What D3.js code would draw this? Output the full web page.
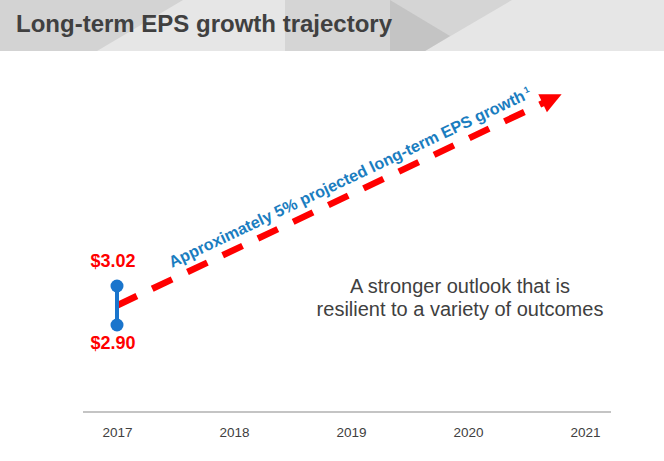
<!DOCTYPE html>
<html>
<head>
<meta charset="utf-8">
<script src="https://cdn.jsdelivr.net/npm/d3@7"></script>
<style>
  body { margin: 0; background: #fff; }
  text { font-family: "Liberation Sans", Arial, sans-serif; }
</style>
</head>
<body>
<div id="chart"></div>
<script>
// Données
var years = [2017, 2018, 2019, 2020, 2021]
var epsLabels = ["$3.02", "$2.90"]
var epsRange = [3.02, 2.90]          // fourchette 2017
var trendYears = [2017, 2020.8]      // flèche de croissance
var trendEps = [2.96, 3.61]
var growthLabel = "Approximately 5% projected long-term EPS growth"
var noteLines = ["A stronger outlook that is", "resilient to a variety of outcomes"]

var width = 664, height = 461

const svg = d3.select("#chart")
  .append("svg")
    .attr("width", width)
    .attr("height", height)

// Bandeau du titre
const head = svg.append("g")
head.append("rect").attr("width", width).attr("height", 51).attr("fill", "#e6e6e6")
head.append("polygon").attr("points", "0,0 183,0 97,51 0,51").attr("fill", "#d3d3d3")
head.append("polygon").attr("points", "285,0 512,0 425,51 285,51").attr("fill", "#d5d5d5")
head.append("polygon").attr("points", "390,0 450,36 425,51 390,51").attr("fill", "#c4c4c4")
head.append("text")
  .attr("x", 16).attr("y", 32)
  .attr("font-size", 24).attr("font-weight", "bold")
  .attr("fill", "#404040")
  .text("Long-term EPS growth trajectory")

// Echelles
const x = d3.scaleLinear().domain([2017, 2021]).range([117, 585])
const y = d3.scaleLinear().domain([2.90, 3.02]).range([325, 286])

// Axe
svg.append("line")
  .attr("x1", x(2017) - 34).attr("x2", x(2021) + 26)
  .attr("y1", 412).attr("y2", 412)
  .attr("stroke", "#c4c4c4").attr("stroke-width", 2)

const axis = svg.append("g")
  .attr("transform", "translate(0,412)")
  .call(d3.axisBottom(x).tickValues(years).tickFormat(d3.format("d")).tickSize(0).tickPadding(15))
axis.select(".domain").remove()
axis.selectAll("text")
  .attr("font-size", 13.5)
  .attr("font-family", "Liberation Sans, Arial, sans-serif")
  .attr("fill", "#404040")

// Flèche pointillée
const pts = trendYears.map((d, i) => [x(d), y(trendEps[i])])
const ang = Math.atan2(pts[1][1] - pts[0][1], pts[1][0] - pts[0][0])
const headLen = 21
const lineEnd = [pts[1][0] - headLen * 0.8 * Math.cos(ang), pts[1][1] - headLen * 0.8 * Math.sin(ang)]

svg.append("line")
  .attr("x1", pts[0][0]).attr("y1", pts[0][1])
  .attr("x2", lineEnd[0]).attr("y2", lineEnd[1])
  .attr("stroke", "#ff0000")
  .attr("stroke-width", 6.5)
  .attr("stroke-dasharray", "22,17")

svg.append("path")
  .attr("d", "M0,0 L" + (-headLen) + ",-10 L" + (-headLen) + ",10 Z")
  .attr("transform", "translate(" + pts[1][0] + "," + pts[1][1] + ") rotate(" + (ang * 180 / Math.PI) + ")")
  .attr("fill", "#ff0000")

// Texte de croissance
const gt = svg.append("text")
  .attr("transform", "translate(172,268) rotate(" + (ang * 180 / Math.PI) + ")")
  .attr("font-size", 16.2).attr("font-weight", "bold")
  .attr("fill", "#1a7dc0")
gt.append("tspan").text(growthLabel)
gt.append("tspan").attr("font-size", 9).attr("dy", -6).attr("dx", 2).text("1")

// Fourchette 2017
svg.append("line")
  .attr("x1", x(2017)).attr("x2", x(2017))
  .attr("y1", y(epsRange[0])).attr("y2", y(epsRange[1]))
  .attr("stroke", "#1a75cc").attr("stroke-width", 4)

svg.selectAll("dots")
  .data(epsRange)
  .join("circle")
    .attr("cx", x(2017))
    .attr("cy", d => y(d))
    .attr("r", 6.5)
    .attr("fill", "#1a75cc")

svg.selectAll("epsLabels")
  .data(epsLabels)
  .join("text")
    .attr("x", x(2017) - 4)
    .attr("y", (d, i) => i == 0 ? y(epsRange[0]) - 19 : y(epsRange[1]) + 24)
    .attr("text-anchor", "middle")
    .attr("font-size", 18).attr("font-weight", "bold")
    .attr("fill", "#ff0000")
    .text(d => d)

// Note à droite
svg.selectAll("notes")
  .data(noteLines)
  .join("text")
    .attr("x", 460)
    .attr("y", (d, i) => 293 + i * 23)
    .attr("text-anchor", "middle")
    .attr("font-size", 20)
    .attr("fill", "#404040")
    .text(d => d)
</script>
</body>
</html>
